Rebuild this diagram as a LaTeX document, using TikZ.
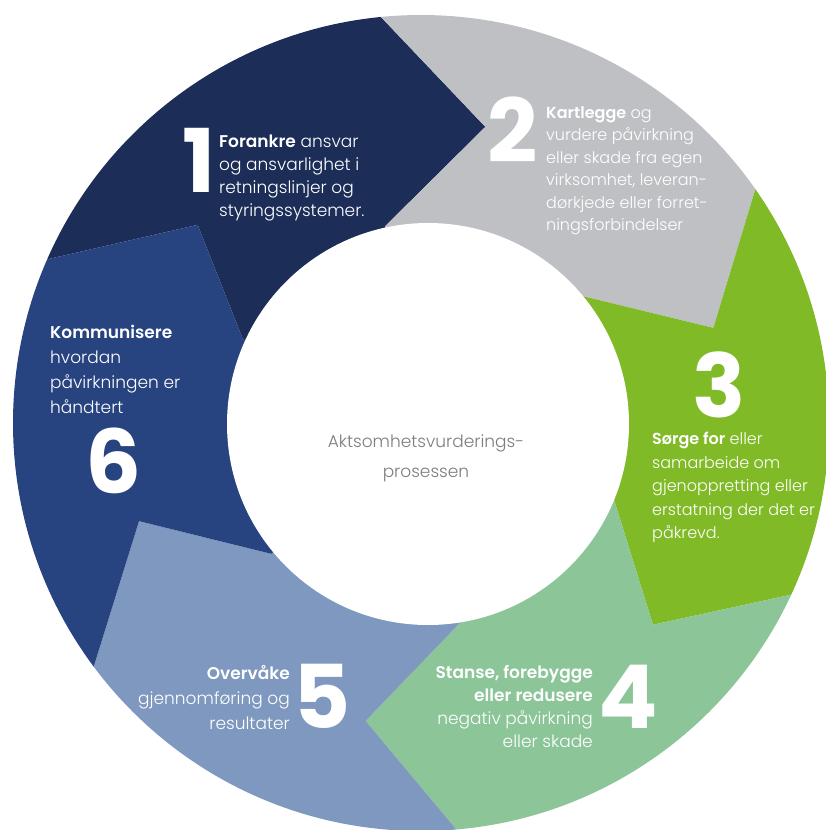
\documentclass[tikz,border=0pt]{standalone}
\usepackage{fontspec}
\setmainfont{Poppins}[UprightFont=* Light, BoldFont=* SemiBold]
\newfontfamily\numfont{Poppins}[UprightFont=* Bold]
\definecolor{cOne}{RGB}{28,45,88}
\definecolor{cTwo}{RGB}{190,192,196}
\definecolor{cThree}{RGB}{128,186,38}
\definecolor{cFour}{RGB}{139,197,152}
\definecolor{cFive}{RGB}{126,152,192}
\definecolor{cSix}{RGB}{40,68,128}
\definecolor{cCenter}{RGB}{125,125,125}
\tikzset{
  bodytxt/.style={text=white, inner sep=0pt, font=\fontsize{17}{23}\selectfont},
  widetxt/.style={text=white, inner sep=0pt, font=\fontsize{17}{25}\selectfont},
  smalltxt/.style={text=white, inner sep=0pt, font=\fontsize{16}{22.5}\selectfont},
  bignum/.style={text=white, inner sep=0pt, anchor=base, text height=62pt, text depth=0pt, font=\numfont\fontsize{88}{88}\selectfont},
}
\begin{document}
\begin{tikzpicture}[x=1pt,y=-1pt]
\useasboundingbox (0,0) rectangle (826,830);
\coordinate (C) at (426,424);
% boundaries: outer angle, tip angle, inner angle
\foreach \nm/\ao/\at/\ai in {b61/156.8/138.9/155.1, b12/97/78.7/101.7, b23/36.7/18.5/39.3, b34/-23.7/-41.5/-21.7, b45/-84.8/-101.5/-80.4, b56/-143.4/-161.3/-140}{
  \path ({426+560*cos(\ao)},{424-560*sin(\ao)}) coordinate (\nm-oo);
  \path ({426+416*cos(\ao)},{424-416*sin(\ao)}) coordinate (\nm-o);
  \path ({426+303*cos(\at)},{424-303*sin(\at)}) coordinate (\nm-t);
  \path ({426+202*cos(\ai)},{424-202*sin(\ai)}) coordinate (\nm-i);
}
\foreach \nm/\am in {m1/127, m2/67, m3/6.5, m4/-54, m5/-114, m6/186.7}{
  \path ({426+650*cos(\am)},{424-650*sin(\am)}) coordinate (\nm);
}
\begin{scope}
  \clip (421,423) circle (408pt);
  \fill[cOne] (b61-oo) -- (b61-o) -- (b61-t) -- (b61-i) -- (C) -- (b12-i) -- (b12-t) -- (b12-o) -- (b12-oo) -- (m1) -- cycle;
  \fill[cTwo] (b12-oo) -- (b12-o) -- (b12-t) -- (b12-i) -- (C) -- (b23-i) -- (b23-t) -- (b23-o) -- (b23-oo) -- (m2) -- cycle;
  \fill[cThree] (b23-oo) -- (b23-o) -- (b23-t) -- (b23-i) -- (C) -- (b34-i) -- (b34-t) -- (b34-o) -- (b34-oo) -- (m3) -- cycle;
  \fill[cFour] (b34-oo) -- (b34-o) -- (b34-t) -- (b34-i) -- (C) -- (b45-i) -- (b45-t) -- (b45-o) -- (b45-oo) -- (m4) -- cycle;
  \fill[cFive] (b45-oo) -- (b45-o) -- (b45-t) -- (b45-i) -- (C) -- (b56-i) -- (b56-t) -- (b56-o) -- (b56-oo) -- (m5) -- cycle;
  \fill[cSix] (b56-oo) -- (b56-o) -- (b56-t) -- (b56-i) -- (C) -- (b61-i) -- (b61-t) -- (b61-o) -- (b61-oo) -- (m6) -- cycle;
\end{scope}
\fill[white] (428,424) circle (201pt);
% numerals
\node[bignum] (n1) at (199,192) {1};
\node[bignum] (n2) at (513,162) {2};
\node[bignum] (n3) at (719,417) {3};
\node[bignum] (n4) at (628,728) {4};
\node[bignum] (n5) at (322,728) {5};
\node[bignum] (n6) at (114,493) {6};
% texts
\node[bodytxt, align=left, anchor=north west] (t1) at (219,135)
  {\textbf{Forankre} ansvar\\og ansvarlighet i\\retningslinjer og\\styringssystemer.};
\node[smalltxt, align=left, anchor=north west] (t2) at (546,106)
  {\textbf{Kartlegge} og\\vurdere påvirkning\\eller skade fra egen\\virksomhet, leveran-\\dørkjede eller forret-\\ningsforbindelser};
\node[smalltxt, align=left, anchor=north west, font=\fontsize{16}{23.5}\selectfont] (t3) at (652,432)
  {\textbf{Sørge for} eller\\samarbeide om\\gjenoppretting eller\\erstatning der det er\\påkrevd.};
\node[bodytxt, align=right, anchor=north east] (t4) at (593,665)
  {\textbf{Stanse, forebygge}\\\textbf{eller redusere}\\negativ påvirkning\\eller skade};
\node[widetxt, align=right, anchor=north east] (t5) at (290,665)
  {\textbf{Overvåke}\\gjennomføring og\\resultater};
\node[widetxt, align=left, anchor=north west] (t6) at (50,325)
  {\textbf{Kommunisere}\\hvordan\\påvirkningen er\\håndtert};
\node[inner sep=0pt, align=center, text=cCenter, font=\fontsize{17}{30}\selectfont] (ctr) at (426,458)
  {Aktsomhetsvurderings-\\prosessen};
\end{tikzpicture}
\end{document}
